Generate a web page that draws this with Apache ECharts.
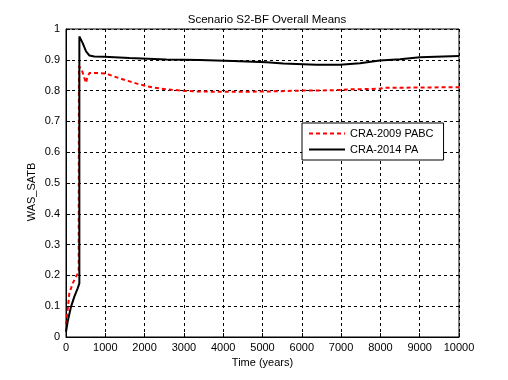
<!DOCTYPE html>
<html>
<head>
<meta charset="utf-8">
<script src="https://cdn.jsdelivr.net/npm/echarts@6/dist/echarts.min.js"></script>
<style>
  html, body { margin: 0; padding: 0; background: #fff; }
  #container { width: 508px; height: 380px; }
</style>
</head>
<body>
<div id="container"></div>
<script>
// values
var xTicks = [0, 1000, 2000, 3000, 4000, 5000, 6000, 7000, 8000, 9000, 10000];

var pabcTime = [0, 42, 85, 170, 255, 323, 330, 400, 467, 510, 535, 595, 807, 1020, 1360, 1615, 1870, 2210, 2550, 3060, 3400, 4245, 5100, 5950, 6800, 7225, 7990, 8070, 9005, 10000];
var pabcVals = [0.04, 0.088, 0.142, 0.174, 0.196, 0.212, 0.879, 0.868, 0.841, 0.825, 0.84, 0.857, 0.857, 0.855, 0.84, 0.83, 0.82, 0.81, 0.804, 0.799, 0.797, 0.796, 0.797, 0.80, 0.801, 0.804, 0.806, 0.809, 0.81, 0.811];

var paTime = [0, 43, 127, 212, 297, 340, 340, 425, 510, 595, 722, 977, 1613, 2550, 3400, 4245, 5100, 5530, 6373, 6970, 7480, 7986, 8500, 9005, 10000];
var paVals = [0.017, 0.05, 0.098, 0.131, 0.158, 0.174, 0.976, 0.954, 0.927, 0.914, 0.911, 0.910, 0.906, 0.901, 0.899, 0.896, 0.892, 0.888, 0.884, 0.884, 0.889, 0.898, 0.902, 0.908, 0.912];

function pairs(t, v) {
    var out = [];
    for (var i = 0; i < t.length; i++) out.push([t[i], v[i]]);
    return out;
}

var dom = document.getElementById("container");
var myChart = echarts.init(dom);
var font = 'Liberation Sans, Arial, sans-serif';
var gridLine = { show: true, lineStyle: { color: '#000', type: [3, 3], width: 1 } };

var option = {
    backgroundColor: '#fff',
    animation: false,
    title: {
        text: 'Scenario S2-BF Overall Means',
        left: 262, top: 9, textAlign: 'center',
        textStyle: { fontFamily: font, fontSize: 11.5, fontWeight: 'normal', color: '#000' }
    },
    grid: {
        left: 66, right: 49, top: 29, bottom: 43,
        show: true, borderColor: '#000', borderWidth: 1
    },
    legend: {
        orient: 'vertical',
        left: 302, top: 123,
        width: 141,
        padding: [5, 10, 5, 6],
        itemGap: 5,
        itemWidth: 36, itemHeight: 12,
        backgroundColor: '#fff',
        borderColor: '#000', borderWidth: 1,
        itemStyle: { opacity: 0 },
        textStyle: { fontFamily: font, fontSize: 11, color: '#000' },
        data: ['CRA-2009 PABC', 'CRA-2014 PA']
    },
    xAxis: {
        type: 'value',
        min: 0, max: 10000, interval: 1000,
        name: 'Time (years)',
        nameLocation: 'middle', nameGap: 20,
        nameTextStyle: { fontFamily: font, fontSize: 11, color: '#000' },
        axisLine: { show: true, lineStyle: { color: '#000' } },
        axisTick: { show: true, inside: true, length: 4, lineStyle: { color: '#000' } },
        axisLabel: {
            fontFamily: font, fontSize: 11, color: '#000', margin: 5, showMaxLabel: true,
            formatter: function (v) { return String(v); }
        },
        splitLine: gridLine
    },
    yAxis: {
        type: 'value',
        min: 0, max: 1, interval: 0.1,
        name: 'WAS_SATB',
        nameLocation: 'middle', nameGap: 29,
        nameMoveOverlap: false,
        nameTextStyle: { fontFamily: font, fontSize: 11, color: '#000', padding: [0, 18, 0, 0] },
        axisLine: { show: true, lineStyle: { color: '#000' } },
        axisTick: { show: true, inside: true, length: 4, lineStyle: { color: '#000' } },
        axisLabel: {
            fontFamily: font, fontSize: 11, color: '#000', margin: 6,
            formatter: function (v) { return +v.toFixed(1) + ''; }
        },
        splitLine: gridLine
    },
    series: [
        {
            name: 'CRA-2009 PABC',
            type: 'line',
            data: pairs(pabcTime, pabcVals),
            showSymbol: false, symbol: 'none',
            lineStyle: { color: '#ff0000', width: 2, type: [4, 3] },
            itemStyle: { color: '#ff0000' },
            z: 3
        },
        {
            name: 'CRA-2014 PA',
            type: 'line',
            data: pairs(paTime, paVals),
            showSymbol: false, symbol: 'none',
            lineStyle: { color: '#000', width: 2 },
            itemStyle: { color: '#000' },
            z: 4
        }
    ]
};

myChart.setOption(option, true);
</script>
</body>
</html>
